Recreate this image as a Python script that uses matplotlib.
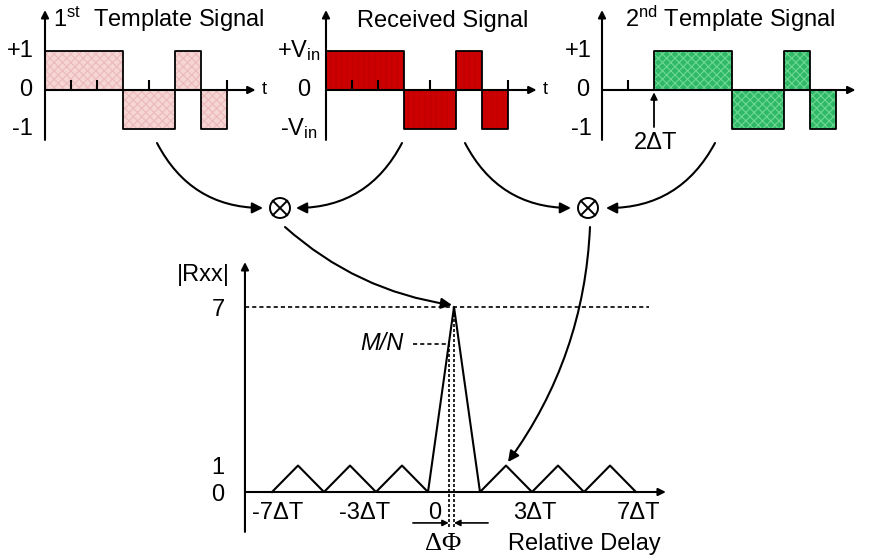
import matplotlib
matplotlib.use("Agg")
import matplotlib.pyplot as plt
import numpy as np
from matplotlib.patches import Rectangle, Circle, FancyArrowPatch

plt.rcParams['font.family'] = ['Liberation Sans', 'DejaVu Sans']
plt.rcParams['mathtext.fontset'] = 'custom'
plt.rcParams['mathtext.rm'] = 'Liberation Sans'
plt.rcParams['mathtext.it'] = 'Liberation Sans:italic'
plt.rcParams['hatch.linewidth'] = 0.8

# ---- data ----
barker = [1, 1, 1, -1, -1, 1, -1]          # 7-chip Barker code
template_ticks = [1, 2, 4, 7]               # chip boundaries without a transition
second_shift = 2                            # 2nd template delayed by 2 chips
second_ticks = [1]
lags = np.arange(-7, 8)
rxx_abs = [0, 1, 0, 1, 0, 1, 0, 7, 0, 1, 0, 1, 0, 1, 0]
dphi = 0.2                                  # phase offset in chip units
mn_level = 7 * (1 - dphi)
delay_labels = ['-7ΔT', '-3ΔT', '0', '3ΔT', '7ΔT']
delay_label_pos = [-6.8, -3.45, -0.73, 3.1, 7.1]
rxx_tick_vals = [0, 1, 7]
rxx_tick_labels = ['0', '1', '7']

W, H = 869, 560
FS = 17
fig = plt.figure(figsize=(W / 100, H / 100), dpi=100)

# pixel canvas for connectors
canvas = fig.add_axes([0, 0, 1, 1])
canvas.set_xlim(0, W)
canvas.set_ylim(H, 0)
canvas.axis('off')


def scaled_axes(x0, y0, sx, sy):
    """Full-figure axes whose data origin sits at pixel (x0, y0)."""
    ax = fig.add_axes([0, 0, 1, 1])
    ax.set_xlim(-x0 / sx, (W - x0) / sx)
    ax.set_ylim(-(H - y0) / sy, y0 / sy)
    ax.axis('off')
    return ax


def arrow(ax, p0, p1, lw=1.5, ms=12, rad=0.0):
    a = FancyArrowPatch(p0, p1, arrowstyle='-|>', mutation_scale=ms, lw=lw,
                        color='black', shrinkA=0, shrinkB=0, zorder=4,
                        connectionstyle=f'arc3,rad={rad}')
    ax.add_patch(a)


def signal_panel(x0, code, start, face, hcolor, hatch, ticks, xend,
                 ylabels, ylab_dx):
    ax = scaled_axes(x0, 90, 26, 39)
    for i, v in enumerate(code):
        ax.add_patch(Rectangle((start + i, 0), 1, v, facecolor=face,
                               edgecolor='none', zorder=1))
        ax.add_patch(Rectangle((start + i, 0), 1, v, facecolor='none',
                               edgecolor=hcolor, hatch=hatch, lw=0, zorder=1.5))
    xs, ys = [start], [0]
    for i, v in enumerate(code):
        xs += [start + i, start + i + 1]
        ys += [v, v]
    xs.append(start + len(code))
    ys.append(0)
    ax.plot(xs, ys, color='black', lw=1.3, zorder=3)
    ax.vlines(ticks, 0, 0.26, color='black', lw=1.5, zorder=3)
    # axes
    arrow(ax, (0, -1.28), (0, 2.05), lw=1.5, ms=11)
    arrow(ax, (0, 0), (xend, 0), lw=1.5, ms=11)
    for (val, txt), dx in zip(ylabels, ylab_dx):
        ax.text(dx, val, txt, ha='right', va='center', fontsize=FS)
    return ax


# 1st template
ax1 = signal_panel(45, barker, 0, '#f6d5d5', '#ebbaba', 'xxxx',
                   template_ticks, 8.1,
                   [(1, '+1'), (0, '0'), (-1, '-1')], [-0.45, -0.5, -0.45])
ax1.text(8.45, 0, 't', ha='center', va='center', fontsize=13)
ax1.text(0.3, 1.62, r'1$^{\rm st}$  Template Signal', ha='left',
         va='baseline', fontsize=FS)

# received signal
ax2 = signal_panel(326, barker, 0, '#cc0000', '#c00000', '|||',
                   template_ticks, 8.1,
                   [(1, r'+V$_{\rm in}$'), (0, '0'), (-1, r'-V$_{\rm in}$')],
                   [-0.22, -0.6, -0.32])
ax2.text(8.45, 0, 't', ha='center', va='center', fontsize=13)
ax2.text(1.2, 1.62, 'Received Signal', ha='left', va='baseline', fontsize=FS)

# 2nd template, delayed by 2 chips
ax3 = signal_panel(602, barker, second_shift, '#2fb865', '#6fd895', 'xxxx',
                   second_ticks, 9.75,
                   [(1, '+1'), (0, '0'), (-1, '-1')], [-0.38, -0.5, -0.38])
arrow(ax3, (second_shift, -0.95), (second_shift, -0.06), lw=1.3, ms=10)
ax3.text(second_shift + 0.05, -1.35, '2ΔT', ha='center', va='center',
         fontsize=FS)
ax3.text(0.88, 1.62, r'2$^{\rm nd}$ Template Signal', ha='left',
         va='baseline', fontsize=FS)

# multipliers
for cx in (280, 588):
    canvas.add_patch(Circle((cx, 208), 10, fill=False, lw=1.4, color='black'))
    d = 10 / np.sqrt(2)
    canvas.plot([cx - d, cx + d], [208 - d, 208 + d], color='black', lw=1.4)
    canvas.plot([cx - d, cx + d], [208 + d, 208 - d], color='black', lw=1.4)

# connectors
arrow(canvas, (157, 143), (263, 208), rad=0.3, ms=16)
arrow(canvas, (402, 143), (296, 208), rad=-0.3, ms=16)
arrow(canvas, (465, 143), (571, 208), rad=0.3, ms=16)
arrow(canvas, (715, 143), (606, 208), rad=-0.3, ms=16)
arrow(canvas, (285, 227), (452, 305), rad=0.15, ms=16)
arrow(canvas, (590, 227), (508, 462), rad=-0.15, ms=16)

# correlation magnitude
ax4 = scaled_axes(454, 492, 26, 26.43)
ax4.plot(lags, rxx_abs, color='black', lw=1.5, zorder=3)
arrow(ax4, (-8.04, 0), (8.15, 0), lw=1.5, ms=11)
arrow(ax4, (-8.04, -1.51), (-8.04, 8.7), lw=1.5, ms=11)
ax4.hlines(7, -8.04, 7.5, color='black', lw=1.2, linestyles=(0, (2.5, 1.8)))
ax4.hlines(mn_level, -1.58, -dphi, color='black', lw=1.2,
           linestyles=(0, (2.5, 1.8)))
ax4.vlines(-dphi, -1.32, mn_level, color='black', lw=1.2,
           linestyles=(0, (1.8, 1.2)))
ax4.vlines(0, -1.32, 7, color='black', lw=1.2, linestyles=(0, (1.8, 1.2)))
arrow(ax4, (-1.58, -1.17), (-dphi, -1.17), lw=1.2, ms=9)
arrow(ax4, (1.31, -1.17), (0, -1.17), lw=1.2, ms=9)
for x, lab in zip(delay_label_pos, delay_labels):
    ax4.text(x, -0.78, lab, ha='center', va='center', fontsize=FS)
for v, lab in zip(rxx_tick_vals, rxx_tick_labels):
    ax4.text(-9.08, v - 0.1, lab, ha='center', va='center', fontsize=FS)
ax4.text(-9.65, 8.2, '|Rxx|', ha='center', va='center', fontsize=FS)
ax4.text(-1.96, mn_level, 'M/N', ha='right', va='center', fontsize=FS,
         style='italic')
ax4.text(-0.42, -1.95, 'ΔΦ', ha='center', va='center', fontsize=19,
         family=['Liberation Serif', 'DejaVu Serif'])
ax4.text(5.0, -1.95, 'Relative Delay', ha='center', va='center', fontsize=FS)

fig.savefig('out.png', dpi=100)
